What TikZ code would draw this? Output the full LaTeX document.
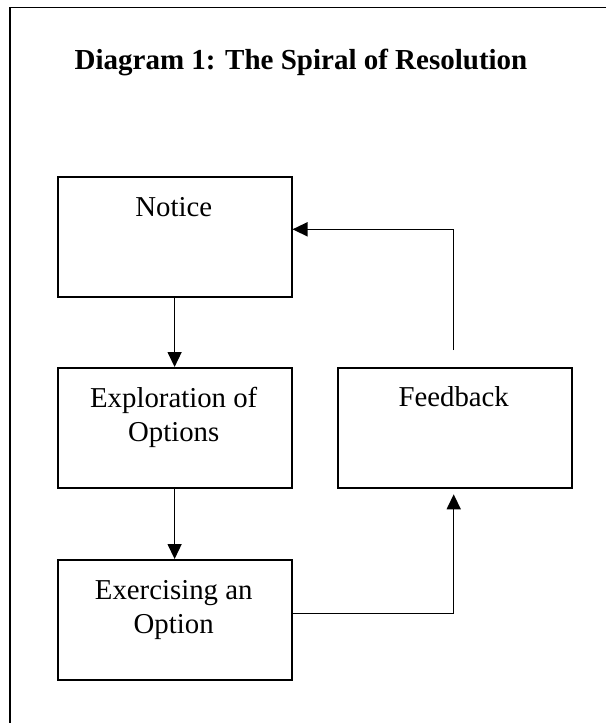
\documentclass[tikz,border=0pt]{standalone}
\usepackage{fontspec}
\setmainfont{Liberation Serif}
\usetikzlibrary{arrows.meta}
\begin{document}
\begin{tikzpicture}[x=1pt,y=-1pt,
  box/.style={draw,line width=1.8pt,minimum width=234pt,minimum height=120pt,inner sep=0pt,anchor=north west},
  txt/.style={anchor=base,align=center,inner sep=0pt,font=\fontsize{28.8}{34.4}\selectfont},
  conn/.style={line width=1.5pt},
  arr/.style={conn,-{Triangle[length=15pt,width=14pt]}}]
\useasboundingbox (0,0) rectangle (606,723);
% frame (only top and left edges visible)
\draw[line width=1.6pt] (606,7.3) -- (10,7.3) -- (10,723);
% title
\node[txt,font=\bfseries\fontsize{29}{34}\selectfont] (title) at (301,69) {Diagram 1: The Spiral of Resolution};
% boxes
\node[box] (notice) at (56.7,176) {};
\node[box] (explore) at (56.7,367) {};
\node[box] (exercise) at (56.7,559) {};
\node[box] (feedback) at (336.7,367) {};
% texts (base anchor = baseline of last line)
\node[txt] (noticeT) at (173.7,216.7) {Notice};
\node[txt] (exploreT) at (173.7,441.7) {Exploration of\\Options};
\node[txt] (exerciseT) at (173.7,633.5) {Exercising an\\Option};
\node[txt] (feedbackT) at (453.7,406.5) {Feedback};
% connectors
\draw[arr] (notice.south) -- (explore.north);
\draw[arr] (explore.south) -- (exercise.north);
\coordinate (fbup) at (453.7,350);
\coordinate (fbdown) at (453.7,494.3);
\draw[arr] (fbup) -- (453.7,229.3) -- (notice.east |- 0,229.3);
\draw[arr] (exercise.east |- 0,613.3) -| (fbdown);
\end{tikzpicture}
\end{document}
